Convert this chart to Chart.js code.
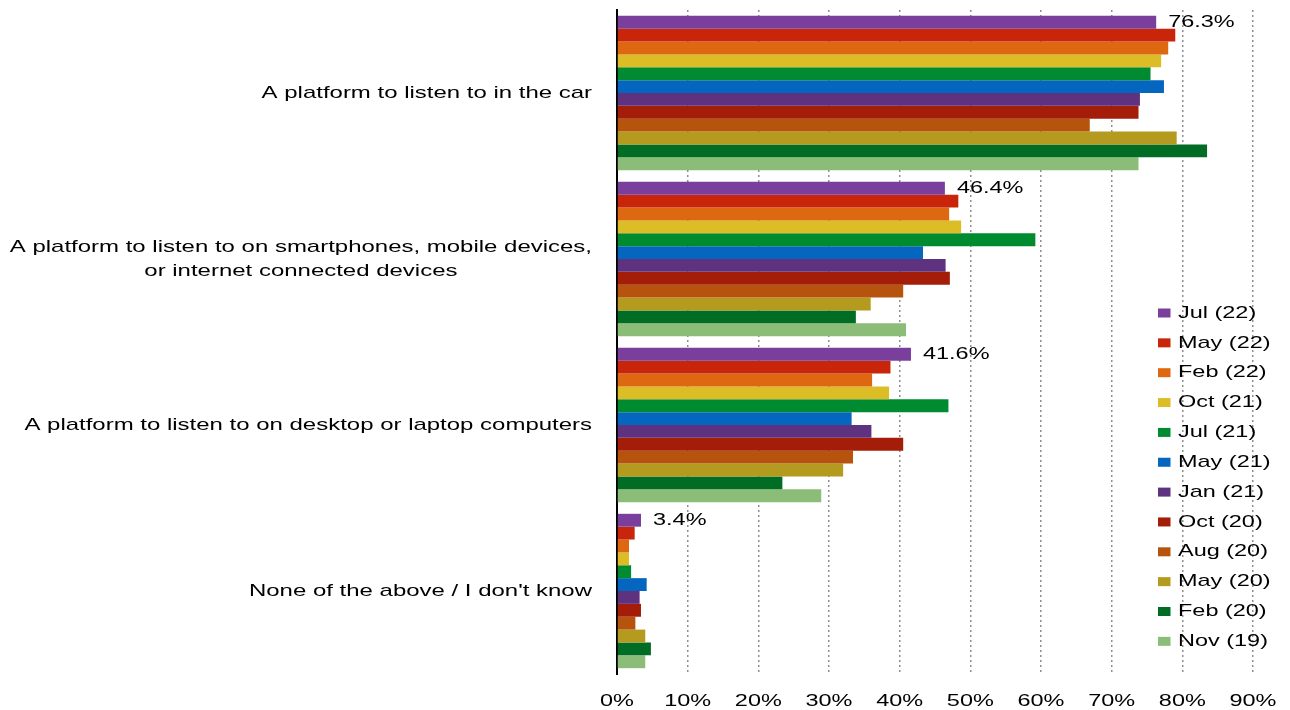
<!DOCTYPE html>
<html>
<head>
<meta charset="utf-8">
<title>Platform usage</title>
<script src="https://cdn.jsdelivr.net/npm/chart.js@4/dist/chart.umd.min.js"></script>
<style>
    html, body { margin: 0; padding: 0; background: #fff; overflow: hidden; }
    #wrap { width: 1290px; height: 710px; position: relative; }
</style>
</head>
<body>
<div id="wrap"><canvas id="platformChart" width="1290" height="710"></canvas></div>
<script>
// Data
const categories = [
    'A platform to listen to in the car',
    ['A platform to listen to on smartphones, mobile devices,', 'or internet connected devices'],
    'A platform to listen to on desktop or laptop computers',
    "None of the above / I don't know"
];
const seriesNames = ['Jul (22)', 'May (22)', 'Feb (22)', 'Oct (21)', 'Jul (21)', 'May (21)',
    'Jan (21)', 'Oct (20)', 'Aug (20)', 'May (20)', 'Feb (20)', 'Nov (19)'];
const jul22 = [76.3, 46.4, 41.6, 3.4];
const may22 = [79.0, 48.3, 38.7, 2.5];
const feb22 = [78.0, 47.0, 36.1, 1.7];
const oct21 = [77.0, 48.7, 38.5, 1.7];
const jul21 = [75.5, 59.2, 46.9, 2.0];
const may21 = [77.4, 43.3, 33.2, 4.2];
const jan21 = [74.0, 46.5, 36.0, 3.2];
const oct20 = [73.8, 47.1, 40.5, 3.4];
const aug20 = [66.9, 40.5, 33.4, 2.6];
const may20 = [79.2, 35.9, 32.0, 4.0];
const feb20 = [83.5, 33.8, 23.4, 4.8];
const nov19 = [73.8, 40.9, 28.9, 4.0];
const seriesValues = [jul22, may22, feb22, oct21, jul21, may21, jan21, oct20, aug20, may20, feb20, nov19];
const xTicks = [0, 10, 20, 30, 40, 50, 60, 70, 80, 90];

const colors = ['#7a3f9d', '#c8250b', '#de6812', '#dcbd26', '#008b30', '#0566c0',
    '#5f3280', '#a41d08', '#b6540d', '#b49b1f', '#006c24', '#8cbd78'];

const FONT = '17px "Liberation Sans", Arial, sans-serif';
const SX = 1.38;     // text in the source is drawn wide
const SX_CAT = 1.41; // category labels a bit wider still

function wideText(ctx, text, x, y, align, sx) {
    ctx.save();
    ctx.translate(x, y);
    ctx.scale(sx || SX, 1);
    ctx.font = FONT;
    ctx.fillStyle = '#000';
    ctx.textAlign = align;
    ctx.textBaseline = 'middle';
    ctx.fillText(text, 0, 0);
    ctx.restore();
}

// Labels, ticks, value labels and legend drawn on top
const textPlugin = {
    id: 'textPlugin',
    afterDraw(chart) {
        const ctx = chart.ctx;
        const xs = chart.scales.x;
        const ys = chart.scales.y;

        // category labels
        ctx.font = FONT;
        categories.forEach((cat, i) => {
            const lines = Array.isArray(cat) ? cat : [cat];
            const maxW = Math.max(...lines.map(l => ctx.measureText(l).width)) * SX_CAT;
            const cx = 592 - maxW / 2;
            const cy = ys.getPixelForValue(i);
            const lh = 24;
            lines.forEach((l, j) => {
                wideText(ctx, l, cx, cy + (j - (lines.length - 1) / 2) * lh, 'center', SX_CAT);
            });
        });

        // x tick labels
        xTicks.forEach(v => {
            wideText(ctx, v + '%', xs.getPixelForValue(v), 701, 'center');
        });

        // value labels for latest wave
        const meta = chart.getDatasetMeta(0);
        meta.data.forEach((bar, i) => {
            wideText(ctx, jul22[i].toFixed(1) + '%', bar.x + 12, bar.y, 'left');
        });

        // legend
        seriesNames.forEach((name, i) => {
            const y = 313 + i * 29.85;
            ctx.fillStyle = colors[i];
            ctx.fillRect(1158, y - 4.5, 12.5, 9);
            wideText(ctx, name, 1178, y, 'left');
        });
    }
};

const ctx = document.getElementById('platformChart').getContext('2d');
new Chart(ctx, {
    type: 'bar',
    data: {
        labels: categories,
        datasets: seriesNames.map((name, i) => ({
            label: name,
            data: seriesValues[i],
            backgroundColor: colors[i],
            borderWidth: 0,
            categoryPercentage: 0.93,
            barPercentage: 1.0
        }))
    },
    options: {
        indexAxis: 'y',
        responsive: false,
        animation: false,
        layout: {
            padding: { top: 10, right: 37, left: 0, bottom: 0 }
        },
        plugins: {
            legend: { display: false },
            tooltip: { enabled: false }
        },
        scales: {
            x: {
                min: 0,
                max: 90,
                ticks: { display: false, stepSize: 10 },
                grid: {
                    drawTicks: false,
                    lineWidth: 1.5,
                    color: function(c) {
                        return c.tick && c.tick.value === 0 ? 'rgba(0,0,0,0)' : '#8e8e8e';
                    }
                },
                border: { display: false, dash: [2, 3] },
                afterFit: function(scale) { scale.height = 36; }
            },
            y: {
                ticks: { display: false },
                grid: { display: false, drawTicks: false },
                border: { display: true, color: '#000', width: 2 },
                afterFit: function(scale) { scale.width = 617; }
            }
        }
    },
    plugins: [textPlugin]
});
</script>
</body>
</html>
